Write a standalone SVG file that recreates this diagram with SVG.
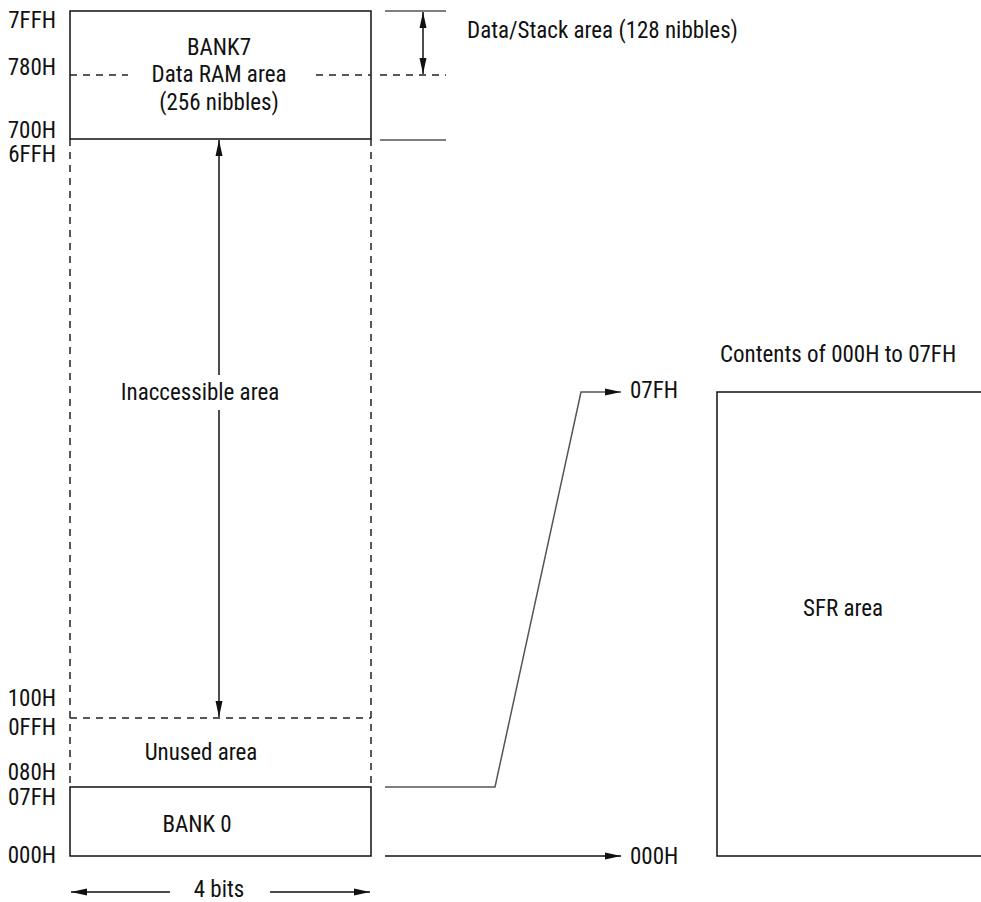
<svg xmlns="http://www.w3.org/2000/svg" width="981" height="902" viewBox="0 0 981 902">
<defs>
<style>
text{font-family:"Liberation Sans Narrow","Roboto Condensed","Liberation Sans",Arial,sans-serif;font-size:23px;fill:#111;font-stretch:condensed}
.r{text-anchor:end}
.m{text-anchor:middle}
.s{stroke:#111;stroke-width:1.5;fill:none}
.g{stroke:#555;stroke-width:1.5;fill:none}
.d{stroke:#222;stroke-width:1.5;fill:none;stroke-dasharray:7,6}
</style>
<marker id="ah2" viewBox="0 0 16 10" refX="16" refY="5" markerWidth="16" markerHeight="10" markerUnits="userSpaceOnUse" orient="auto-start-reverse">
<path d="M0,1.5 L16,5 L0,8.5 Z" fill="#111"/>
</marker>
</defs>
<g id="addresses">
<text class="r" x="56" y="28">7FFH</text>
<text class="r" x="56" y="75">780H</text>
<text class="r" x="56" y="138">700H</text>
<text class="r" x="56" y="162">6FFH</text>
<text class="r" x="56" y="706">100H</text>
<text class="r" x="56" y="735">0FFH</text>
<text class="r" x="56" y="780">080H</text>
<text class="r" x="56" y="805">07FH</text>
<text class="r" x="56" y="863">000H</text>
</g>
<g id="bank7">
<rect x="70" y="11" width="301" height="128" class="s"/>
<line x1="70" y1="75" x2="128" y2="75" class="d"/>
<line x1="316" y1="75" x2="371" y2="75" class="d"/>
<text class="m" x="219" y="55">BANK7</text>
<text class="m" x="219" y="82">Data RAM area</text>
<text class="m" x="219" y="110">(256 nibbles)</text>
</g>
<g id="inaccessible">
<line x1="70" y1="139" x2="70" y2="787" class="d"/>
<line x1="371" y1="139" x2="371" y2="787" class="d"/>
<line x1="70" y1="718" x2="371" y2="718" class="d"/>
<text class="m" x="200" y="400">Inaccessible area</text>
</g>
<g id="unused">
<text class="m" x="201" y="760">Unused area</text>
</g>
<g id="bank0">
<rect x="70" y="787" width="301" height="69" class="s"/>
<text class="m" x="197" y="832">BANK 0</text>
</g>
<g id="sfr">
<path d="M981,392 H717 V856 H981" class="s"/>
<text class="m" x="843" y="616">SFR area</text>
<text x="720" y="362">Contents of 000H to 07FH</text>
<text x="630" y="398">07FH</text>
<text x="630" y="864">000H</text>
</g>
<g id="labels">
<text x="467" y="38">Data/Stack area (128 nibbles)</text>
<text class="m" x="219" y="897">4 bits</text>
</g>
<g id="connectors">
<line x1="385" y1="11" x2="446" y2="11" class="g"/>
<line x1="380" y1="75" x2="446" y2="75" class="d" stroke-dasharray="6,7"/>
<line x1="380" y1="140" x2="446" y2="140" class="g"/>
<line x1="423" y1="12" x2="423" y2="74" class="s" marker-start="url(#ah2)" marker-end="url(#ah2)"/>
<line x1="219" y1="140" x2="219" y2="375" class="s" stroke-width="1.2" marker-start="url(#ah2)"/>
<line x1="219" y1="410" x2="219" y2="717" class="s" stroke-width="1.2" marker-end="url(#ah2)"/>
<line x1="170" y1="892" x2="71" y2="892" class="s" marker-end="url(#ah2)"/>
<line x1="270" y1="892" x2="370" y2="892" class="s" marker-end="url(#ah2)"/>
<path d="M385,787 H495 L581,392 H621" class="g" marker-end="url(#ah2)"/>
<line x1="385" y1="856" x2="621" y2="856" class="s" marker-end="url(#ah2)"/>
</g>
</svg>
